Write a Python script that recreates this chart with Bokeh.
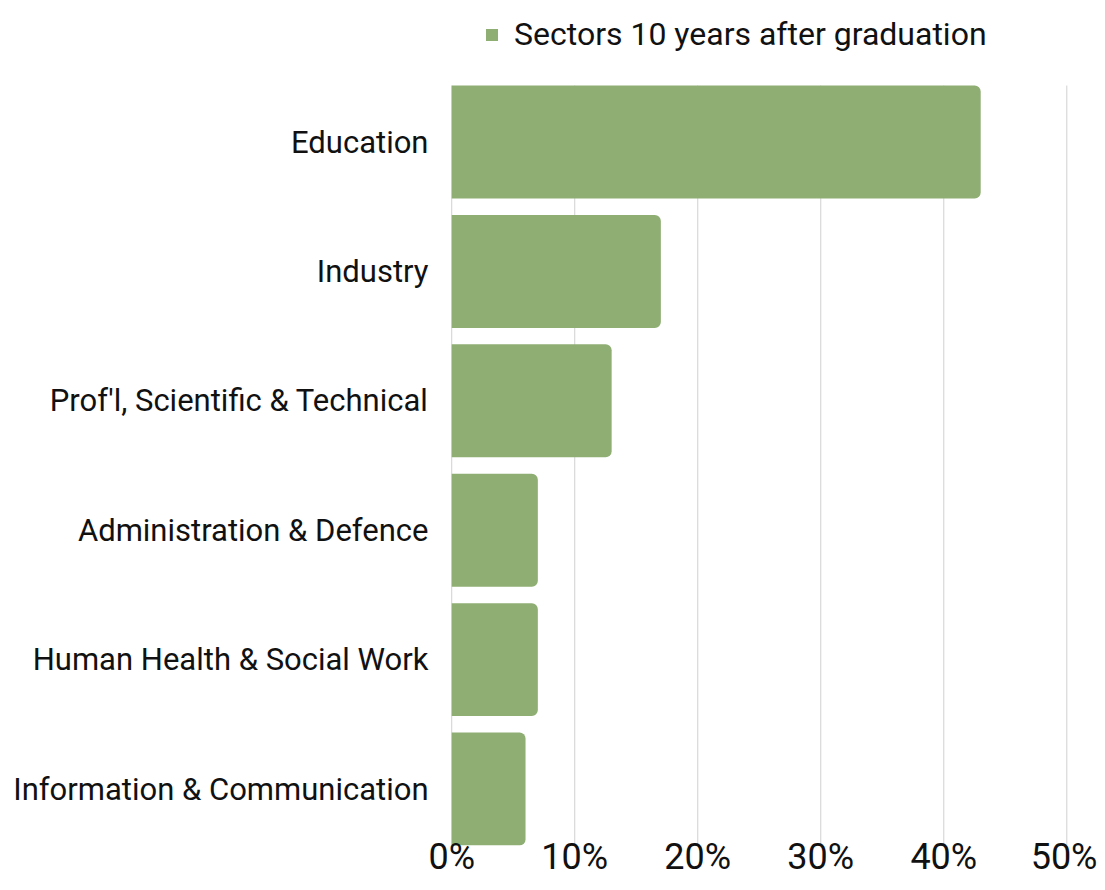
from bokeh.plotting import figure
from bokeh.models import Range1d, Legend, LegendItem, PrintfTickFormatter, FixedTicker, ColumnDataSource
from bokeh.embed import file_html
from bokeh.resources import INLINE

sectors = ["Education", "Industry", "Prof'l, Scientific & Technical",
           "Administration & Defence", "Human Health & Social Work",
           "Information & Communication"]
shares = [43, 17, 13, 7, 7, 6]
series_name = "Sectors 10 years after graduation"
x_ticks = [0, 10, 20, 30, 40, 50]

FONT = "Roboto"
BAR = "#8FAE74"
TXT = "#111111"
GRID = "#d0d0d0"
BAR_H = 0.873

n = len(sectors)
ypos = [n - 1 - i for i in range(n)]          # Education on top
src = ColumnDataSource(dict(sector=sectors, share=shares, y=ypos))

y_lo = min(ypos) - BAR_H / 2
y_hi = max(ypos) + BAR_H / 2
grid_src = ColumnDataSource(dict(x=x_ticks, y0=[y_lo] * len(x_ticks), y1=[y_hi] * len(x_ticks)))

p = figure(width=1097, height=882, output_backend="svg", toolbar_location=None,
           x_range=Range1d(-0.1, 50.3), y_range=Range1d(y_lo, y_lo + 845 / 129.4),
           min_border_left=450, min_border_right=27, min_border_top=0, min_border_bottom=37)
p.outline_line_color = None
p.xgrid.grid_line_color = None
p.ygrid.grid_line_color = None

p.segment(x0="x", x1="x", y0="y0", y1="y1", source=grid_src, line_color=GRID, line_width=1)
r = p.hbar(y="y", right="share", left=0, height=BAR_H, source=src,
           fill_color=BAR, line_color=None, border_radius=(0, 6, 6, 0))

p.xaxis.ticker = FixedTicker(ticks=x_ticks)
p.xaxis.formatter = PrintfTickFormatter(format="%d%%")
p.xaxis.axis_line_color = None
p.xaxis.major_tick_line_color = None
p.xaxis.minor_tick_line_color = None
p.xaxis.major_tick_in = 0
p.xaxis.major_tick_out = 0
p.xaxis.major_label_standoff = -10
p.xaxis.major_label_text_font = FONT
p.xaxis.major_label_text_font_size = "36px"
p.xaxis.major_label_text_color = TXT

p.yaxis.ticker = FixedTicker(ticks=ypos)
p.yaxis.major_label_overrides = {y: s for y, s in zip(ypos, sectors)}
p.yaxis.axis_line_color = None
p.yaxis.major_tick_line_color = None
p.yaxis.minor_tick_line_color = None
p.yaxis.major_tick_in = 0
p.yaxis.major_tick_out = 0
p.yaxis.major_label_standoff = 22
p.yaxis.major_label_text_font = FONT
p.yaxis.major_label_text_font_size = "31px"
p.yaxis.major_label_text_color = TXT

legend = Legend(items=[LegendItem(label=series_name, renderers=[r])],
                location=(34, 792), orientation="horizontal",
                glyph_width=15, glyph_height=15, label_standoff=15,
                padding=0, margin=0, spacing=0,
                border_line_color=None, background_fill_alpha=0,
                label_text_font=FONT, label_text_font_size="32px", label_text_color=TXT)
p.add_layout(legend, "center")

open("out.html", "w").write(file_html(p, INLINE))
